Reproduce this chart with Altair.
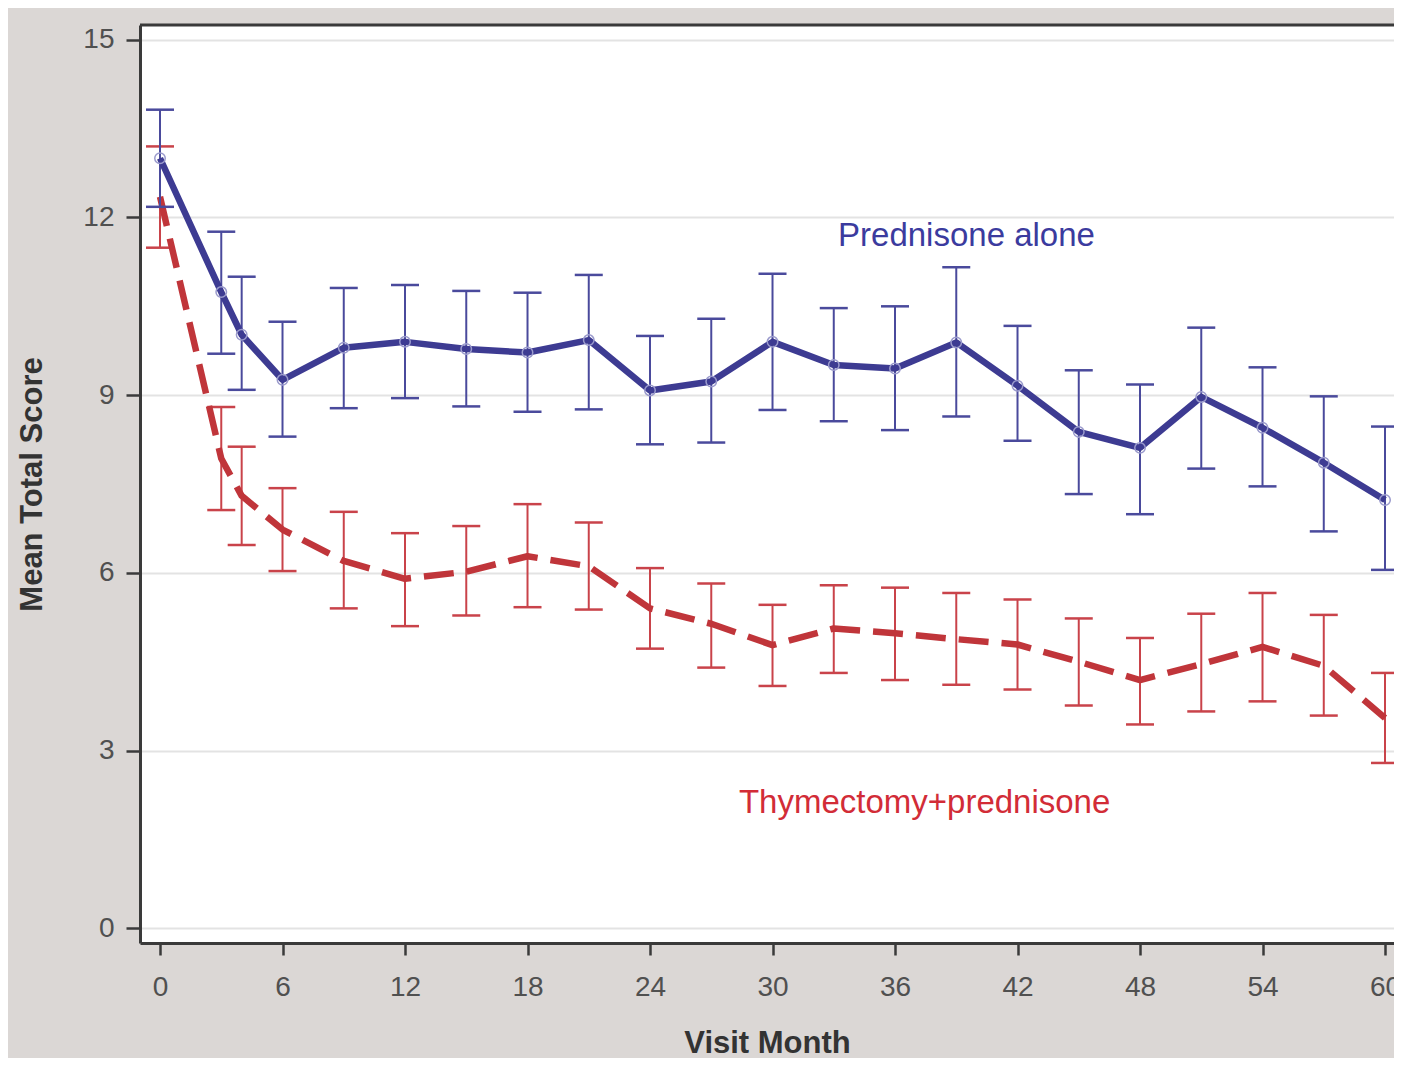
import altair as alt
import pandas as pd

# ---- data ----
months = [0, 3, 4, 6, 9, 12, 15, 18, 21, 24, 27, 30, 33, 36, 39, 42, 45, 48, 51, 54, 57, 60]

pred_mean = [13.0, 10.74, 10.02, 9.26, 9.80, 9.90, 9.78, 9.72, 9.93, 9.08, 9.23, 9.90,
             9.51, 9.45, 9.89, 9.16, 8.38, 8.11, 8.97, 8.45, 7.86, 7.23]
pred_lo = [12.18, 9.70, 9.09, 8.30, 8.78, 8.95, 8.81, 8.72, 8.76, 8.17, 8.20, 8.75,
           8.56, 8.41, 8.64, 8.23, 7.33, 6.99, 7.76, 7.46, 6.70, 6.05]
pred_hi = [13.82, 11.76, 11.00, 10.24, 10.81, 10.86, 10.76, 10.73, 11.03, 10.00, 10.29, 11.05,
           10.47, 10.50, 11.16, 10.17, 9.42, 9.18, 10.14, 9.47, 8.98, 8.47]

thy_mean = [12.35, 7.93, 7.30, 6.73, 6.20, 5.90, 6.02, 6.28, 6.11, 5.40, 5.14, 4.78,
            5.06, 4.98, 4.88, 4.79, 4.50, 4.19, 4.46, 4.75, 4.43, 3.55]
thy_lo = [11.49, 7.06, 6.47, 6.03, 5.40, 5.10, 5.28, 5.42, 5.38, 4.72, 4.40, 4.09,
          4.31, 4.19, 4.11, 4.03, 3.76, 3.44, 3.66, 3.83, 3.59, 2.79]
thy_hi = [13.20, 8.80, 8.13, 7.43, 7.03, 6.67, 6.79, 7.16, 6.85, 6.08, 5.82, 5.46,
          5.79, 5.75, 5.66, 5.55, 5.23, 4.90, 5.31, 5.66, 5.29, 4.31]

label_text = ["Prednisone alone", "Thymectomy+prednisone"]
label_x = [39.5, 37.45]
label_y = [11.69, 2.11]
label_color = ["#3b3b9e", "#d22c37"]

x_ticks = [0, 6, 12, 18, 24, 30, 36, 42, 48, 54, 60]
y_ticks = [0, 3, 6, 9, 12, 15]

FONT = "Liberation Sans"
W, H = 1254, 918

pred = pd.DataFrame({"month": months, "mean": pred_mean, "lo": pred_lo, "hi": pred_hi})
thy = pd.DataFrame({"month": months, "mean": thy_mean, "lo": thy_lo, "hi": thy_hi})
labels = pd.DataFrame({"text": label_text, "x": label_x, "y": label_y, "c": label_color})

xscale = alt.Scale(domain=[-0.98, 60.44], nice=False, zero=False)
yscale = alt.Scale(domain=[-0.25, 15.25], nice=False, zero=False)

xaxis = alt.Axis(values=x_ticks, title="Visit Month", grid=False,
                 domainColor="#3a3a3a", domainWidth=3,
                 tickColor="#3a3a3a", tickWidth=2.5, tickSize=12,
                 labelPadding=18, labelFontSize=28, labelColor="#505050", labelFont=FONT,
                 titleFont=FONT, titleFontSize=31, titleFontWeight="bold", titleColor="#333333",
                 titlePadding=27)
yaxis = alt.Axis(values=y_ticks, title="Mean Total Score", grid=True,
                 gridColor="#e3e3e3", gridWidth=2,
                 domainColor="#3a3a3a", domainWidth=3,
                 tickColor="#3a3a3a", tickWidth=2.5, tickSize=14,
                 labelPadding=12, labelFontSize=28, labelColor="#505050", labelFont=FONT,
                 titleFont=FONT, titleFontSize=31, titleFontWeight="bold", titleColor="#333333",
                 titlePadding=34)


def X(field):
    return alt.X(f"{field}:Q", scale=xscale, axis=xaxis)


def Y(field):
    return alt.Y(f"{field}:Q", scale=yscale, axis=yaxis)


def series(df, line_color, bar_color, dash=None):
    base = alt.Chart(df)
    bars = base.mark_rule(color=bar_color, strokeWidth=2).encode(
        x=X("month"), y=Y("lo"), y2="hi:Q")
    cap_lo = base.mark_tick(orient="horizontal", color=bar_color, size=28,
                            thickness=2.5, opacity=1).encode(x=X("month"), y=Y("lo"))
    cap_hi = base.mark_tick(orient="horizontal", color=bar_color, size=28,
                            thickness=2.5, opacity=1).encode(x=X("month"), y=Y("hi"))
    line_kw = dict(color=line_color, strokeWidth=6.5, strokeJoin="round")
    if dash:
        line_kw.update(strokeDash=dash, strokeCap="butt")
    line = base.mark_line(**line_kw).encode(x=X("month"), y=Y("mean"))
    return [bars, cap_lo, cap_hi, line]


thy_layers = series(thy, "#c0353a", "#c9434a", dash=[30, 13])
pred_layers = series(pred, "#3d3b92", "#4a4a9c")

points = alt.Chart(pred).mark_point(shape="circle", filled=False, size=110,
                                    color="#9a9acc", strokeWidth=1.5, opacity=1).encode(
    x=X("month"), y=Y("mean"))

text = alt.Chart(labels).mark_text(font=FONT, fontSize=33, align="center",
                                   baseline="middle").encode(
    x=X("x"), y=Y("y"), text="text:N", color=alt.Color("c:N", scale=None))

top_border = alt.Chart(pd.DataFrame({"k": [0]})).mark_rule(
    color="#3a3a3a", strokeWidth=3).encode(
    x=alt.value(0), x2=alt.value(W), y=alt.value(0))

chart = alt.layer(*thy_layers, *pred_layers, points, text, top_border).properties(
    width=W, height=H,
    background="#dbd7d5",
    autosize=alt.AutoSizeParams(type="none"),
    padding={"left": 132, "top": 17, "right": 0, "bottom": 115},
).configure_view(fill="white", stroke=None, strokeWidth=0)

chart.save("out.html", embed_options={"renderer": "svg", "actions": False})
